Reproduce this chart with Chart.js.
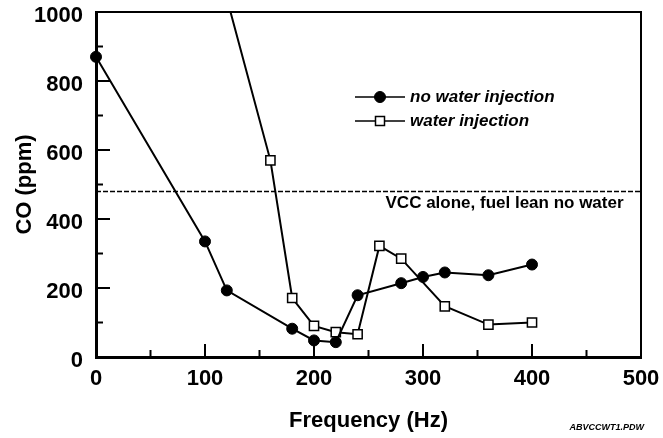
<!DOCTYPE html>
<html>
<head>
<meta charset="utf-8">
<script src="https://cdn.jsdelivr.net/npm/chart.js@4/dist/chart.umd.min.js"></script>
<style>
  html, body { margin: 0; padding: 0; background: #fff; }
  #wrap { width: 663px; height: 438px; }
</style>
</head>
<body>
<div id="wrap"><canvas id="coChart"></canvas></div>
<script>
// data
const freqNoWater = [0, 100, 120, 180, 200, 220, 240, 280, 300, 320, 360, 400];
const coNoWater   = [870, 335, 193, 82, 48, 43, 179, 214, 232, 245, 237, 268];
const freqWater   = [120, 160, 180, 200, 220, 240, 260, 280, 320, 360, 400];
const coWater     = [1040, 570, 171, 90, 72, 66, 322, 285, 147, 94, 100];
const vccFreq     = [0, 500];
const vccCO       = [480, 480];
const seriesLabels = ['no water injection', 'water injection'];
const vccLabel = 'VCC alone, fuel lean no water';
const xMajor = [0, 100, 200, 300, 400, 500];
const yMajor = [0, 200, 400, 600, 800, 1000];

const toPoints = (xs, ys) => xs.map((x, i) => ({ x: x, y: ys[i] }));

const FONT = '"Liberation Sans", Arial, sans-serif';

// inward tick marks, frame, legend and notes
const decor = {
    id: 'decor',
    beforeDatasetsDraw(chart) {
        const ctx = chart.ctx;
        const a = chart.chartArea;
        const xs = chart.scales.x, ys = chart.scales.y;
        ctx.save();
        ctx.strokeStyle = '#000';
        ctx.lineWidth = 2;
        ctx.beginPath();
        ctx.moveTo(a.left, a.top);
        ctx.lineTo(a.right, a.top);
        ctx.lineTo(a.right, a.bottom);
        ctx.stroke();

        ctx.lineWidth = 2;
        xs.ticks.forEach(t => {
            const px = xs.getPixelForValue(t.value);
            const len = xMajor.includes(t.value) ? 13 : 7;
            ctx.beginPath();
            ctx.moveTo(px, a.bottom);
            ctx.lineTo(px, a.bottom - len);
            ctx.stroke();
        });
        ys.ticks.forEach(t => {
            const py = ys.getPixelForValue(t.value);
            const len = yMajor.includes(t.value) ? 14 : 7;
            ctx.beginPath();
            ctx.moveTo(a.left, py);
            ctx.lineTo(a.left + len, py);
            ctx.stroke();
        });

        // label for the reference line
        ctx.fillStyle = '#000';
        ctx.font = 'bold 17px ' + FONT;
        ctx.textAlign = 'right';
        ctx.textBaseline = 'middle';
        ctx.fillText(vccLabel, xs.getPixelForValue(484), ys.getPixelForValue(vccCO[0]) + 12);
        ctx.restore();
    },
    afterDraw(chart) {
        const ctx = chart.ctx;
        ctx.save();
        // legend
        const rows = [97, 121];
        chart.data.datasets.slice(0, 2).forEach((ds, i) => {
            const y = rows[i];
            ctx.strokeStyle = '#000';
            ctx.lineWidth = 1.5;
            ctx.beginPath();
            ctx.moveTo(355, y);
            ctx.lineTo(405, y);
            ctx.stroke();
            ctx.fillStyle = ds.pointBackgroundColor;
            ctx.lineWidth = ds.pointBorderWidth;
            if (ds.pointStyle === 'rect') {
                ctx.fillRect(375.5, y - 4.5, 9, 9);
                ctx.strokeRect(375.5, y - 4.5, 9, 9);
            } else {
                ctx.beginPath();
                ctx.arc(380, y, ds.pointRadius, 0, Math.PI * 2);
                ctx.fill();
                ctx.stroke();
            }
            ctx.fillStyle = '#000';
            ctx.font = 'italic bold 17px ' + FONT;
            ctx.textAlign = 'left';
            ctx.textBaseline = 'middle';
            ctx.fillText(ds.label, 410, y);
        });
        ctx.font = 'italic bold 9px ' + FONT;
        ctx.textAlign = 'right';
        ctx.textBaseline = 'middle';
        ctx.fillText('ABVCCWT1.PDW', 644, 428);
        ctx.restore();
    }
};

new Chart(document.getElementById('coChart'), {
    type: 'scatter',
    data: {
        datasets: [{
            label: seriesLabels[0],
            data: toPoints(freqNoWater, coNoWater),
            showLine: true,
            clip: false,
            borderColor: '#000',
            borderWidth: 2,
            pointStyle: 'circle',
            pointRadius: 5.5,
            pointBackgroundColor: '#000',
            pointBorderColor: '#000',
            pointBorderWidth: 1
        }, {
            label: seriesLabels[1],
            data: toPoints(freqWater, coWater),
            showLine: true,
            borderColor: '#000',
            borderWidth: 2,
            pointStyle: 'rect',
            pointRadius: 6.5,
            pointBackgroundColor: '#fff',
            pointBorderColor: '#000',
            pointBorderWidth: 1.5
        }, {
            label: vccLabel,
            data: toPoints(vccFreq, vccCO),
            showLine: true,
            borderColor: '#000',
            borderWidth: 1.5,
            borderDash: [5, 2],
            pointRadius: 0
        }]
    },
    options: {
        responsive: true,
        maintainAspectRatio: false,
        animation: false,
        layout: { padding: { left: 0, right: 22, top: 12, bottom: 0 } },
        plugins: {
            legend: { display: false },
            tooltip: { enabled: false }
        },
        scales: {
            x: {
                type: 'linear',
                min: 0,
                max: 500,
                grid: { display: false, drawTicks: false },
                border: { display: true, color: '#000', width: 3 },
                ticks: {
                    stepSize: 50,
                    autoSkip: false,
                    maxRotation: 0,
                    padding: 9,
                    color: '#000',
                    font: { family: FONT, size: 22, weight: 'bold' },
                    callback: v => xMajor.includes(v) ? String(v) : ''
                },
                title: {
                    display: true,
                    text: 'Frequency (Hz)',
                    color: '#000',
                    font: { family: FONT, size: 22, weight: 'bold' },
                    padding: { top: 0, bottom: 4 }
                },
                afterFit: s => { s.height = 81; s.paddingLeft = 0; s.paddingRight = 0; }
            },
            y: {
                type: 'linear',
                min: 0,
                max: 1000,
                grid: { display: false, drawTicks: false },
                border: { display: true, color: '#000', width: 3 },
                ticks: {
                    stepSize: 100,
                    autoSkip: false,
                    padding: 13,
                    labelOffset: 4,
                    color: '#000',
                    font: { family: FONT, size: 22, weight: 'bold' },
                    callback: v => yMajor.includes(v) ? String(v) : ''
                },
                title: {
                    display: true,
                    text: 'CO (ppm)',
                    color: '#000',
                    font: { family: FONT, size: 22, weight: 'bold' },
                    padding: { top: 12, bottom: 0 }
                },
                afterFit: s => { s.width = 96; s.paddingTop = 0; s.paddingBottom = 0; }
            }
        }
    },
    plugins: [decor]
});
</script>
</body>
</html>
